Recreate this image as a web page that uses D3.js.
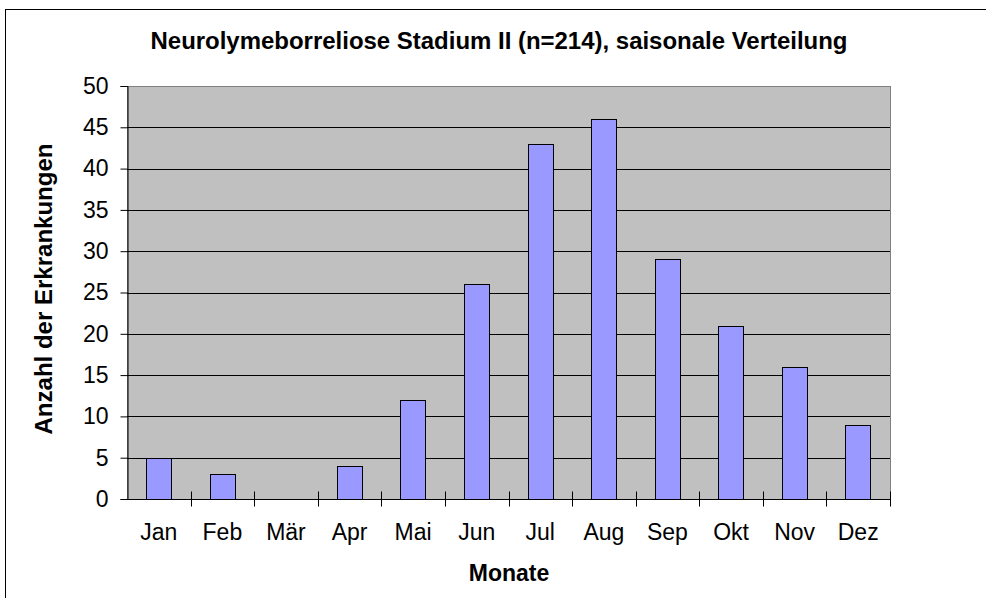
<!DOCTYPE html>
<html>
<head>
<meta charset="utf-8">
<script src="https://cdn.jsdelivr.net/npm/d3@7"></script>
<style>
  body { margin: 0; background: #fff; }
  text { font-family: "Liberation Sans", Arial, sans-serif; fill: #000; }
</style>
</head>
<body>
<div id="chart"></div>
<script>
const width = 986, height = 598;
const margin = {top: 86, right: 96, bottom: 99, left: 127};

// data
const months = ["Jan", "Feb", "Mär", "Apr", "Mai", "Jun", "Jul", "Aug", "Sep", "Okt", "Nov", "Dez"];
const cases = [5, 3, 0, 4, 12, 26, 43, 46, 29, 21, 16, 9];
const yTicks = [0, 5, 10, 15, 20, 25, 30, 35, 40, 45, 50];

const svg = d3.select("#chart")
  .append("svg")
  .attr("width", width)
  .attr("height", height);

// outer frame (right and bottom edges lie outside the picture)
svg.append("rect")
  .attr("x", 5.5).attr("y", 9.5)
  .attr("width", 1000).attr("height", 620)
  .attr("fill", "#fff")
  .attr("stroke", "#000");

const x = d3.scaleBand()
  .domain(months)
  .range([margin.left, width - margin.right])
  .paddingInner(0.6)
  .paddingOuter(0.3);

const xEdges = d3.scaleLinear()
  .domain([0, months.length])
  .range([margin.left, width - margin.right]);

const y = d3.scaleLinear()
  .domain([0, 50])
  .range([height - margin.bottom, margin.top]);

// plot background
svg.append("rect")
  .attr("x", margin.left + 0.5)
  .attr("y", margin.top + 0.5)
  .attr("width", width - margin.right - margin.left)
  .attr("height", height - margin.bottom - margin.top)
  .attr("fill", "#c0c0c0")
  .attr("stroke", "#808080");

// gridlines
svg.append("g")
  .selectAll("line")
  .data(yTicks.filter(d => d > 0 && d < 50))
  .enter()
  .append("line")
  .attr("x1", margin.left).attr("x2", width - margin.right)
  .attr("y1", d => Math.round(y(d)) + 0.5)
  .attr("y2", d => Math.round(y(d)) + 0.5)
  .attr("stroke", "#000")
  .attr("stroke-width", 1);

// bars
svg.append("g")
  .selectAll("rect")
  .data(cases)
  .enter()
  .append("rect")
  .attr("x", (d, i) => Math.round(x(months[i])) + 0.5)
  .attr("y", d => Math.round(y(d)) + 0.5)
  .attr("width", Math.round(x.bandwidth()))
  .attr("height", d => Math.round(y(0)) - Math.round(y(d)))
  .attr("fill", "#9999ff")
  .attr("stroke", "#000")
  .attr("stroke-width", 1)
  .style("display", d => d > 0 ? null : "none");

// y axis
const yAxis = d3.axisLeft(y)
  .tickValues(yTicks)
  .tickSize(7)
  .tickPadding(12);

const yG = svg.append("g")
  .attr("transform", "translate(" + (margin.left + 0.5) + ",0)")
  .call(yAxis);
yG.selectAll("text")
  .attr("font-size", 23)
  .attr("font-family", "Liberation Sans, Arial, sans-serif");
yG.select(".domain").attr("stroke", "#000");

// x axis line and cross ticks between categories
const baseY = Math.round(y(0)) + 0.5;
svg.append("line")
  .attr("x1", margin.left).attr("x2", width - margin.right)
  .attr("y1", baseY).attr("y2", baseY)
  .attr("stroke", "#000");

svg.append("g")
  .selectAll("line")
  .data(d3.range(1, months.length + 1))
  .enter()
  .append("line")
  .attr("x1", d => Math.round(xEdges(d)) + 0.5)
  .attr("x2", d => Math.round(xEdges(d)) + 0.5)
  .attr("y1", baseY - 8)
  .attr("y2", baseY + 7)
  .attr("stroke", "#000");

svg.append("g")
  .selectAll("text")
  .data(months)
  .enter()
  .append("text")
  .attr("x", d => x(d) + x.bandwidth() / 2)
  .attr("y", 540)
  .attr("text-anchor", "middle")
  .attr("font-size", 23)
  .text(d => d);

// titles
svg.append("text")
  .attr("x", 499)
  .attr("y", 49)
  .attr("text-anchor", "middle")
  .attr("font-size", 23)
  .attr("font-weight", "bold")
  .attr("textLength", 697)
  .attr("lengthAdjust", "spacingAndGlyphs")
  .text("Neurolymeborreliose Stadium II (n=214), saisonale Verteilung");

svg.append("text")
  .attr("x", 509)
  .attr("y", 581)
  .attr("text-anchor", "middle")
  .attr("font-size", 23)
  .attr("font-weight", "bold")
  .text("Monate");

svg.append("text")
  .attr("transform", "translate(52,289) rotate(-90)")
  .attr("text-anchor", "middle")
  .attr("font-size", 23)
  .attr("font-weight", "bold")
  .attr("textLength", 291)
  .attr("lengthAdjust", "spacingAndGlyphs")
  .text("Anzahl der Erkrankungen");
</script>
</body>
</html>
